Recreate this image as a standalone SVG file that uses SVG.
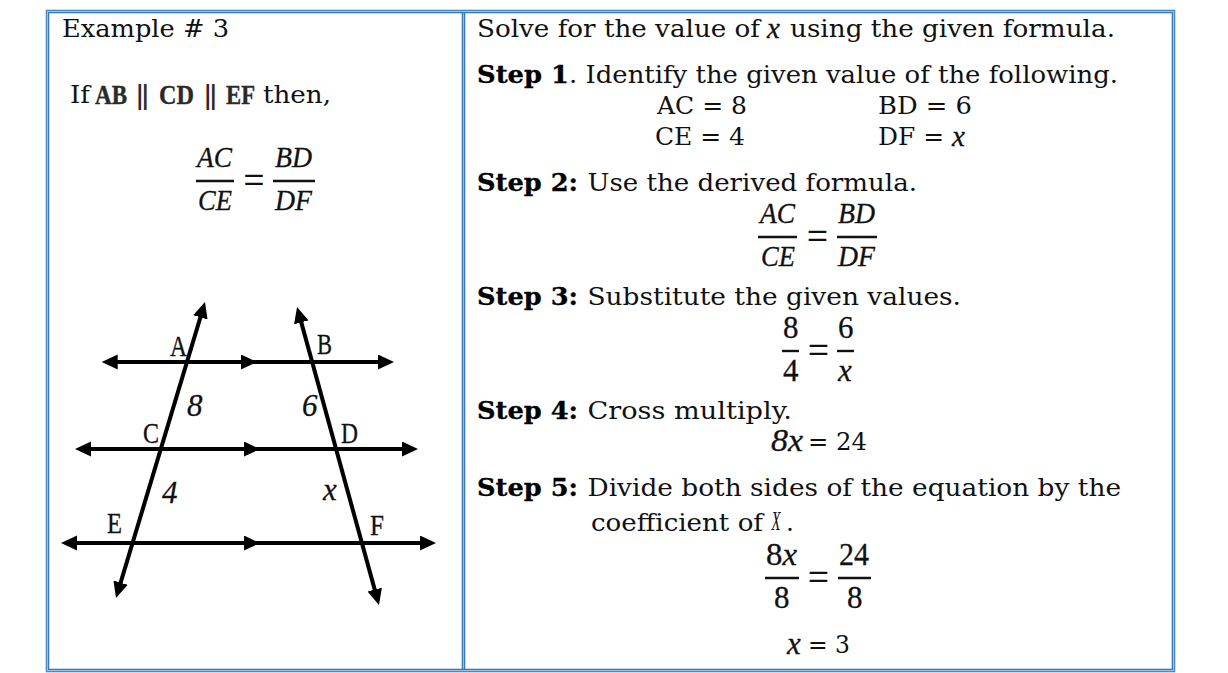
<svg xmlns="http://www.w3.org/2000/svg" width="1228" height="673" viewBox="0 0 1228 673">
<style>
.b{font-family:"DejaVu Serif","Liberation Serif",serif;font-size:25px;fill:#111;transform:translateY(-.7px)}
.s{font-weight:bold;fill:#000;stroke:#000;stroke-width:.3}
.m{font-family:"Liberation Serif","DejaVu Serif",serif;font-size:29px;fill:#111;stroke:#111;stroke-width:.3}
.n{font-size:31px}
.e{font-size:37px}
.i{font-style:italic}
.sx{font-size:27px;stroke-width:0}
.c{font-family:"Liberation Serif","DejaVu Serif",serif;font-weight:bold;font-size:28px;fill:#2a2a2a;stroke:#2a2a2a;stroke-width:.4}
.p{font-family:"Liberation Sans",sans-serif;font-weight:bold;font-size:27px;fill:#2a2a2a}
.f{fill:none;stroke:#4a8ac8;stroke-width:1.6}
.fd{fill:none;stroke:#3a7ab8;stroke-width:1.6}
.bar{stroke:#111;stroke-width:2.4;fill:none}
.ln{stroke:#000;stroke-width:4;fill:none;marker-end:url(#ah)}
.both{marker-start:url(#ah)}
</style>
<defs>
<marker id="ah" markerUnits="userSpaceOnUse" markerWidth="17" markerHeight="17" refX="6" refY="7.5" orient="auto-start-reverse"><path d="M0,0L16,7.5L0,15z" fill="#000"/></marker>
</defs>
<rect width="1228" height="673" fill="#fff"/>
<g id="frame">
<rect class="f" x="46.5" y="10.5" width="1128" height="661"/>
<rect class="fd" x="48.5" y="12.5" width="1124" height="657"/>
<line class="fd" x1="462.5" y1="12" x2="462.5" y2="670"/>
<line class="fd" x1="464.5" y1="12" x2="464.5" y2="670"/>
</g>
<g id="left-text">
<text class="b" x="62" y="38" textLength="167" lengthAdjust="spacingAndGlyphs">Example # 3</text>
<text class="b" x="70" y="104" textLength="20" lengthAdjust="spacingAndGlyphs">If</text>
<text class="c" x="95" y="104" textLength="32" lengthAdjust="spacingAndGlyphs">AB</text>
<text class="p" x="137" y="104" textLength="11" lengthAdjust="spacingAndGlyphs">||</text>
<text class="c" x="159" y="104" textLength="35" lengthAdjust="spacingAndGlyphs">CD</text>
<text class="p" x="205" y="104" textLength="11" lengthAdjust="spacingAndGlyphs">||</text>
<text class="c" x="226" y="104" textLength="29" lengthAdjust="spacingAndGlyphs">EF</text>
<text class="b" x="263" y="104" textLength="68" lengthAdjust="spacingAndGlyphs">then,</text>
<text class="m i" x="197" y="167" textLength="35" lengthAdjust="spacingAndGlyphs">AC</text>
<line class="bar" x1="196" y1="181" x2="234" y2="181"/>
<text class="m i" x="198" y="210" textLength="34" lengthAdjust="spacingAndGlyphs">CE</text>
<text class="m e" x="243.500" y="192.500">=</text>
<text class="m i" x="275" y="167" textLength="37" lengthAdjust="spacingAndGlyphs">BD</text>
<line class="bar" x1="273" y1="181" x2="315" y2="181"/>
<text class="m i" x="275" y="210" textLength="37" lengthAdjust="spacingAndGlyphs">DF</text>
</g>
<g id="connectors">
<line class="ln both" x1="111.7" y1="362" x2="247" y2="362"/>
<line class="ln" x1="247" y1="362" x2="384" y2="362"/>
<line class="ln both" x1="85" y1="449" x2="250" y2="449"/>
<line class="ln" x1="250" y1="449" x2="408" y2="449"/>
<line class="ln both" x1="71" y1="543" x2="250" y2="543"/>
<line class="ln" x1="250" y1="543" x2="426" y2="543"/>
<line class="ln both" x1="202.1" y1="311.6" x2="118.9" y2="588.4"/>
<line class="ln both" x1="299.7" y1="316.6" x2="376.3" y2="595.4"/>
</g>
<g id="figure-labels">
<text class="m" x="170" y="356" textLength="17" lengthAdjust="spacingAndGlyphs">A</text>
<text class="m" x="317" y="354" textLength="15" lengthAdjust="spacingAndGlyphs">B</text>
<text class="m" x="143" y="443" textLength="16" lengthAdjust="spacingAndGlyphs">C</text>
<text class="m" x="341" y="443" textLength="17" lengthAdjust="spacingAndGlyphs">D</text>
<text class="m" x="107" y="533" textLength="15" lengthAdjust="spacingAndGlyphs">E</text>
<text class="m" x="370" y="535" textLength="14" lengthAdjust="spacingAndGlyphs">F</text>
<text class="m n i" x="187" y="416">8</text>
<text class="m n i" x="302" y="416">6</text>
<text class="m n i" x="162" y="503">4</text>
<text class="m n i" x="323" y="500">x</text>
</g>
<g id="right-text">
<text class="b" x="477" y="38" textLength="283" lengthAdjust="spacingAndGlyphs">Solve for the value of</text>
<text class="m i" x="767" y="38">x</text>
<text class="b" x="790" y="38" textLength="325" lengthAdjust="spacingAndGlyphs">using the given formula.</text>
<text class="b s" x="477" y="84" textLength="92" lengthAdjust="spacingAndGlyphs">Step 1</text>
<text class="b" x="569" y="84" textLength="549" lengthAdjust="spacingAndGlyphs">. Identify the given value of the following.</text>
<text class="b" x="657" y="115" textLength="90" lengthAdjust="spacingAndGlyphs">AC = 8</text>
<text class="b" x="878" y="115" textLength="94" lengthAdjust="spacingAndGlyphs">BD = 6</text>
<text class="b" x="655" y="146" textLength="90" lengthAdjust="spacingAndGlyphs">CE = 4</text>
<text class="b" x="878" y="146" textLength="66" lengthAdjust="spacingAndGlyphs">DF =</text>
<text class="m i" x="952" y="146">x</text>
<text class="b s" x="477" y="192" textLength="101" lengthAdjust="spacingAndGlyphs">Step 2:</text>
<text class="b" x="587.500" y="192" textLength="329.500" lengthAdjust="spacingAndGlyphs">Use the derived formula.</text>
<text class="m i" x="760" y="223" textLength="35" lengthAdjust="spacingAndGlyphs">AC</text>
<line class="bar" x1="758" y1="237" x2="797" y2="237"/>
<text class="m i" x="761" y="266" textLength="34" lengthAdjust="spacingAndGlyphs">CE</text>
<text class="m e" x="807" y="248.500">=</text>
<text class="m i" x="838" y="223" textLength="37" lengthAdjust="spacingAndGlyphs">BD</text>
<line class="bar" x1="837" y1="237" x2="877" y2="237"/>
<text class="m i" x="838" y="266" textLength="37" lengthAdjust="spacingAndGlyphs">DF</text>
<text class="b s" x="477" y="306" textLength="101" lengthAdjust="spacingAndGlyphs">Step 3:</text>
<text class="b" x="587.500" y="306" textLength="373.500" lengthAdjust="spacingAndGlyphs">Substitute the given values.</text>
<text class="m n" x="783" y="338">8</text>
<line class="bar" x1="782" y1="351" x2="799" y2="351"/>
<text class="m n" x="783" y="381">4</text>
<text class="m e" x="808" y="362.500">=</text>
<text class="m n" x="838" y="338">6</text>
<line class="bar" x1="837" y1="351" x2="854" y2="351"/>
<text class="m n i" x="838" y="381">x</text>
<text class="b s" x="477" y="420" textLength="101" lengthAdjust="spacingAndGlyphs">Step 4:</text>
<text class="b" x="587.500" y="420" textLength="204.500" lengthAdjust="spacingAndGlyphs">Cross multiply.</text>
<text class="m n i" x="771" y="451" textLength="32" lengthAdjust="spacingAndGlyphs">8x</text>
<text class="b" x="808" y="451" textLength="59" lengthAdjust="spacingAndGlyphs">= 24</text>
<text class="b s" x="477" y="497" textLength="101" lengthAdjust="spacingAndGlyphs">Step 5:</text>
<text class="b" x="587.500" y="497" textLength="533.500" lengthAdjust="spacingAndGlyphs">Divide both sides of the equation by the</text>
<text class="b" x="591" y="532" textLength="172" lengthAdjust="spacingAndGlyphs">coefficient of</text>
<text class="m i sx" x="771.500" y="530" textLength="9" lengthAdjust="spacingAndGlyphs">X</text>
<text class="b" x="786" y="532">.</text>
<text class="m n" x="766" y="565" textLength="31" lengthAdjust="spacingAndGlyphs">8<tspan class="i">x</tspan></text>
<line class="bar" x1="765" y1="578" x2="799" y2="578"/>
<text class="m n" x="774" y="608">8</text>
<text class="m e" x="808" y="589.500">=</text>
<text class="m n" x="839" y="565" textLength="30" lengthAdjust="spacingAndGlyphs">24</text>
<line class="bar" x1="838" y1="578" x2="871" y2="578"/>
<text class="m n" x="847" y="608">8</text>
<text class="m n i" x="787" y="654">x</text>
<text class="b" x="808" y="654" textLength="42" lengthAdjust="spacingAndGlyphs">= 3</text>
</g>
</svg>
